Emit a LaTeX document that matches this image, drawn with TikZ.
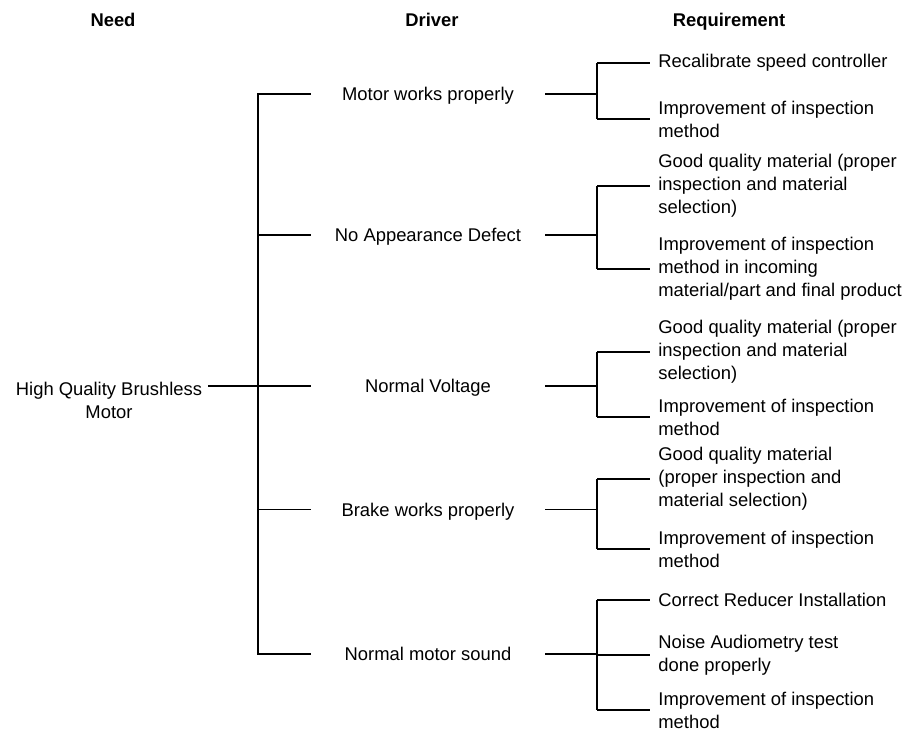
\documentclass[tikz,border=0pt]{standalone}
\usepackage{fontspec}
\setmainfont{Liberation Sans}
\usetikzlibrary{calc}

\begin{document}
\begin{tikzpicture}[x=0.5pt,y=-0.5pt,
  every node/.style={font=\fontsize{9.2}{11.5}\selectfont},
  titre/.style={anchor=base,font=\fontsize{9.2}{11.5}\selectfont\bfseries},
  driver/.style={minimum width=117pt,inner sep=0pt,text height=7pt,text depth=0pt},
  req/.style={anchor=west,align=left,inner xsep=4pt,inner ysep=0pt},
  lien/.style={line width=1pt},
  fin/.style={line width=0.5pt}]
  \useasboundingbox (0,0) rectangle (912,731);

  % titres
  \node[titre] (tneed) at (113,27) {Need};
  \node[titre] (tdriver) at (432,27) {Driver};
  \node[titre] (treq) at (729,27) {Requirement};

  % besoin
  \node[align=center,inner xsep=3pt] (root) at (109,400) {High Quality Brushless\\Motor};

  % drivers
  \node[driver] (d1) at (428,94) {Motor works properly};
  \node[driver] (d2) at (428,235) {No Appearance Defect};
  \node[driver] (d3) at (428,386) {Normal Voltage};
  \node[driver] (d4) at (428,510) {Brake works properly};
  \node[driver] (d5) at (428,654) {Normal motor sound};

  \coordinate (spine) at (258,0);
  \coordinate (fork) at (597,0);

  % requirements
  \node[req] (r11) at (650,63) {Recalibrate speed controller};
  \node[req] (r12) at (650,119) {Improvement of inspection\\method};
  \node[req] (r21) at (650,186) {Good quality material (proper\\inspection and material\\selection)};
  \node[req] (r22) at (650,269) {Improvement of inspection\\method in incoming\\material/part and final product};
  \node[req] (r31) at (650,352) {Good quality material (proper\\inspection and material\\selection)};
  \node[req] (r32) at (650,417) {Improvement of inspection\\method};
  \node[req] (r41) at (650,479) {Good quality material\\(proper inspection and\\material selection)};
  \node[req] (r42) at (650,549) {Improvement of inspection\\method};
  \node[req] (r51) at (650,600) {Correct Reducer Installation};
  \node[req] (r52) at (650,655) {Noise Audiometry test\\done properly};
  \node[req] (r53) at (650,710) {Improvement of inspection\\method};

  % need -> drivers
  \draw[lien] (root.east |- d3.west) -- (d3.west);
  \draw[lien] (d1.west) -- (d1.west -| spine) -- (d5.west -| spine) -- (d5.west);
  \draw[lien] (d2.west -| spine) -- (d2.west);
  \draw[fin] (d4.west -| spine) -- (d4.west);

  % drivers -> requirements
  \foreach \d in {d1,d2,d3,d5}
    \draw[lien] (\d.east) -- (\d.east -| fork);
  \draw[fin] (d4.east) -- (d4.east -| fork);
  \draw[lien] (r11.west -| fork) -- (r12.west -| fork);
  \draw[lien] (r21.west -| fork) -- (r22.west -| fork);
  \draw[lien] (r31.west -| fork) -- (r32.west -| fork);
  \draw[lien] (r41.west -| fork) -- (r42.west -| fork);
  \draw[lien] (r51.west -| fork) -- (r53.west -| fork);
  \foreach \r in {r11,r12,r21,r22,r31,r32,r41,r42,r51,r52,r53}
    \draw[lien] (\r.west -| fork) -- (\r.west);

\end{tikzpicture}
\end{document}
